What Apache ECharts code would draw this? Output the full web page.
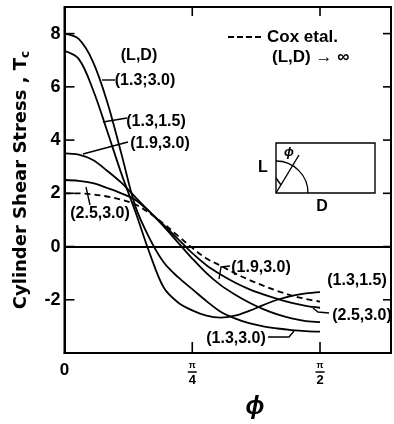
<!DOCTYPE html>
<html>
<head>
<meta charset="utf-8">
<script src="https://cdn.jsdelivr.net/npm/echarts@6/dist/echarts.min.js"></script>
<style>
  html, body { margin: 0; padding: 0; background: #fff; }
  #chart { width: 394px; height: 424px; }
</style>
</head>
<body>
<div id="chart"></div>
<script>
// Angle phi in degrees (0 .. 90 = pi/2)
const phi = [0, 5, 10, 15, 20, 25, 30, 35, 40, 45, 50, 55, 60, 65, 70, 75, 80, 85, 90];

// Cylinder shear stress Tc for each (L,D) pair
const tc_13_30 = [8.0, 7.8, 6.95, 5.45, 3.5, 1.5, 0.3, -0.6, -1.15, -1.6, -2.05, -2.45, -2.7, -2.88, -3.0, -3.08, -3.14, -3.18, -3.2];
const tc_13_15 = [7.35, 7.05, 5.9, 4.35, 2.75, 1.3, -0.25, -1.55, -2.1, -2.4, -2.6, -2.67, -2.6, -2.42, -2.2, -2.0, -1.85, -1.76, -1.71];
const tc_19_30 = [3.5, 3.45, 3.25, 2.85, 2.4, 1.85, 1.3, 0.75, 0.15, -0.45, -1.0, -1.45, -1.8, -2.1, -2.35, -2.55, -2.7, -2.8, -2.84];
const tc_25_30 = [2.5, 2.47, 2.38, 2.2, 2.0, 1.75, 1.3, 0.8, 0.28, -0.25, -0.7, -1.05, -1.35, -1.6, -1.8, -1.97, -2.12, -2.23, -2.3];
const tc_cox   = [2.0, 2.0, 1.96, 1.88, 1.76, 1.58, 1.25, 0.85, 0.4, -0.05, -0.45, -0.72, -1.0, -1.25, -1.47, -1.67, -1.84, -1.97, -2.07];

// Tick values and labels
const yTicks = [-2, 0, 2, 4, 6, 8];
const xTicks = [45, 90];
const xTickLabels = { 0: '0', 45: '{n|π}\n{b| }\n{d|4}', 90: '{n|π}\n{b| }\n{d|2}' };

const X_MIN = 0, X_MAX = 115, Y_MIN = -4, Y_MAX = 9;

const FONT = 'Liberation Sans, Arial, sans-serif';
const pair = (ys) => phi.map((x, i) => [x, ys[i]]);

const chart = echarts.init(document.getElementById('chart'), null, { renderer: 'canvas' });

const axisLine = () => ({ show: true, onZero: false, lineStyle: { color: '#000', width: 2 } });

function curve(name, ys, dashed) {
  return {
    name, type: 'line', smooth: 0.35, showSymbol: false, silent: true,
    data: pair(ys),
    lineStyle: { color: '#000', width: 1.8, type: dashed ? [6, 4] : 'solid' },
    z: 3
  };
}

const fracRich = {
  n: { fontSize: 9, fontWeight: 'bold', lineHeight: 8, fontFamily: FONT, color: '#000', align: 'center' },
  b: { fontSize: 1, lineHeight: 4, width: 9, height: 1.5, backgroundColor: '#000', align: 'center' },
  d: { fontSize: 13, fontWeight: 'bold', lineHeight: 12, fontFamily: FONT, color: '#000', align: 'center' }
};

const txt = (x, y, text, size, extra) => ({
  type: 'text', x, y, silent: true, z: 10,
  style: Object.assign({ text, fontSize: size || 16, fontWeight: 'bold', fontFamily: FONT, fill: '#000', align: 'center', verticalAlign: 'middle' }, extra || {})
});
const poly = (points, extra) => ({ type: 'polyline', silent: true, z: 10, shape: { points }, style: Object.assign({ stroke: '#000', lineWidth: 1.4, fill: null }, extra || {}) });

// captions, legend and the inset sketch
const annotations = [
  txt(255, 407, 'ϕ', 25, { fontStyle: 'italic' }),
  txt(139, 56, '(L,D)', 16),
  txt(145, 81, '(1.3;3.0)', 16),
  poly([[102, 80], [115, 80]]),
  txt(156, 122, '(1.3,1.5)', 16),
  poly([[103, 122], [127, 118]]),
  txt(160, 144, '(1.9,3.0)', 16),
  poly([[83, 154], [128, 142]]),
  txt(100, 214, '(2.5,3.0)', 16),
  poly([[90, 205], [86, 187]]),
  txt(261, 268, '(1.9,3.0)', 16),
  poly([[230, 266], [221, 267], [219, 279]]),
  txt(357, 281, '(1.3,1.5)', 16),
  txt(362, 316, '(2.5,3.0)', 16),
  poly([[329, 313], [318, 312], [313, 308]]),
  txt(236, 339, '(1.3,3.0)', 16),
  poly([[268, 337], [289, 337], [294, 331]]),
  poly([[228, 37], [264, 37]], { lineWidth: 2, lineDash: [6, 3] }),
  txt(267, 37, 'Cox etal.', 17, { align: 'left' }),
  txt(272, 57, '(L,D) → ∞', 17, { align: 'left' }),
  { type: 'rect', silent: true, shape: { x: 276, y: 143, width: 99, height: 50 }, style: { stroke: '#000', lineWidth: 1.4, fill: null } },
  { type: 'arc', silent: true, shape: { cx: 276, cy: 193, r: 32, startAngle: -Math.PI / 2, endAngle: 0 }, style: { stroke: '#000', lineWidth: 1.3, fill: null } },
  poly([[276, 193], [299, 155]]),
  poly([[276, 178], [281, 185]]),
  txt(289, 152, 'ϕ', 13, { fontStyle: 'italic' }),
  txt(263, 168, 'L', 16),
  txt(322, 207, 'D', 16)
];

const option = {
  animation: false,
  backgroundColor: '#fff',
  grid: {
    left: 64.5, top: 7, right: -1.5, bottom: 71, containLabel: false,
    show: true, borderColor: '#000', borderWidth: 2, backgroundColor: 'transparent'
  },
  xAxis: {
    type: 'value', min: X_MIN, max: X_MAX, interval: 45, position: 'bottom',
    axisLine: axisLine(), axisTick: { show: false }, splitLine: { show: false },
    axisLabel: {
      margin: 9, color: '#000', fontSize: 17, fontWeight: 'bold', fontFamily: FONT,
      formatter: (v) => xTickLabels[v] || '', rich: fracRich
    }
  },
  yAxis: {
    type: 'value', min: Y_MIN, max: Y_MAX, interval: 2, position: 'left',
    axisLine: axisLine(), axisTick: { show: false }, splitLine: { show: false },
    axisLabel: {
      margin: 4, color: '#000', fontSize: 18, fontWeight: 'bold', fontFamily: FONT,
      formatter: (v) => yTicks.includes(v) ? String(v) : ''
    },
    name: 'Cylinder Shear Stress , T{s|c}',
    nameLocation: 'middle', nameRotate: 90, nameGap: 33,
    nameTextStyle: {
      color: '#000', fontSize: 18, fontWeight: 'bold', fontFamily: 'DejaVu Sans, sans-serif',
      rich: { s: { fontSize: 12, fontWeight: 'bold', fontFamily: 'DejaVu Sans, sans-serif', color: '#000', padding: [9, 0, 0, 0] } }
    }
  },
  series: [
    Object.assign(curve('(1.3,3.0)', tc_13_30), {
      markLine: {
        silent: true, symbol: 'none', label: { show: false },
        lineStyle: { color: '#000', width: 2, type: 'solid' },
        data: [{ yAxis: 0 }]
      }
    }),
    curve('(1.3,1.5)', tc_13_15),
    curve('(1.9,3.0)', tc_19_30),
    curve('(2.5,3.0)', tc_25_30),
    curve('Cox etal.', tc_cox, true)
  ],
  graphic: { elements: annotations }
};

chart.setOption(option);

// Inward tick marks on all four sides, placed through the grid's own scales
const toPx = (x, y) => chart.convertToPixel({ gridIndex: 0 }, [x, y]);
const [gLeft, gBottom] = toPx(X_MIN, Y_MIN);
const [gRight, gTop] = toPx(X_MAX, Y_MAX);
const tickStyle = { stroke: '#000', lineWidth: 1.6 };
const ticks = [];
yTicks.forEach((v) => {
  const py = toPx(X_MIN, v)[1];
  ticks.push({ type: 'line', silent: true, shape: { x1: gLeft, y1: py, x2: gLeft + 10, y2: py }, style: tickStyle });
  ticks.push({ type: 'line', silent: true, shape: { x1: gRight - 8, y1: py, x2: gRight, y2: py }, style: tickStyle });
});
xTicks.forEach((v) => {
  const px = toPx(v, Y_MIN)[0];
  ticks.push({ type: 'line', silent: true, shape: { x1: px, y1: gBottom, x2: px, y2: gBottom - 11 }, style: tickStyle });
  ticks.push({ type: 'line', silent: true, shape: { x1: px, y1: gTop, x2: px, y2: gTop + 9 }, style: tickStyle });
});
chart.setOption({ graphic: { elements: annotations.concat(ticks) } });
</script>
</body>
</html>
